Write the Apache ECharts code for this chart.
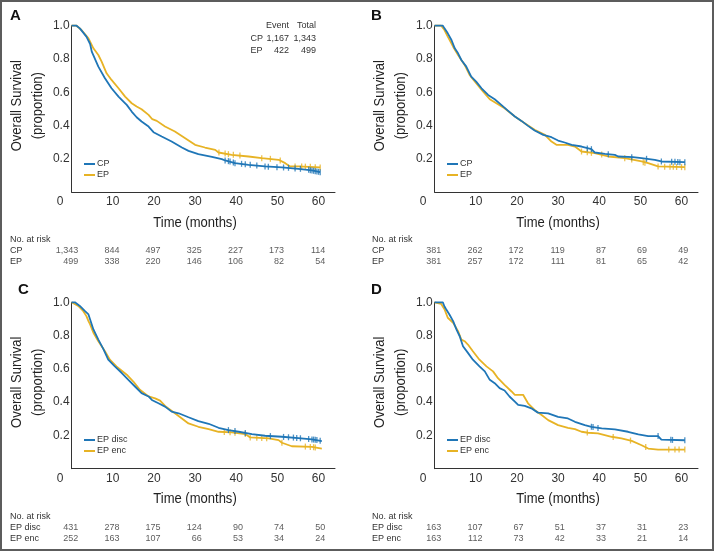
<!DOCTYPE html>
<html><head><meta charset="utf-8">
<script src="https://cdn.jsdelivr.net/npm/echarts@6/dist/echarts.min.js"></script>
<style>html,body{margin:0;padding:0;background:#fff}#c{width:714px;height:551px}</style>
</head><body><div id="c"></div><script>
// ---------- data ----------
const timeTicks = [0, 10, 20, 30, 40, 50, 60];

const A_CP = [[0,1],[1.2,1],[2,0.984],[3.6,0.934],[4.5,0.89],[4.9,0.844],[6.5,0.754],[8.1,0.684],[9.7,0.624],[11.4,0.574],[12.6,0.544],[13.4,0.524],[14.6,0.484],[15.8,0.45],[17,0.424],[18.7,0.394],[19.9,0.36],[21.9,0.334],[24.3,0.304],[26.8,0.268],[28.4,0.248],[30.8,0.228],[34.1,0.212],[36.5,0.198],[37.3,0.19],[39.7,0.174],[43,0.164],[47,0.154],[51.1,0.148],[55.1,0.14],[58.4,0.13],[60.4,0.12]];
const A_EP = [[0,1],[1.2,1],[2.4,0.974],[4.1,0.924],[5.3,0.864],[6.5,0.824],[7.3,0.784],[8.5,0.714],[9.7,0.674],[11.4,0.624],[13,0.574],[14.6,0.534],[15.8,0.514],[17,0.498],[18.7,0.464],[19.6,0.438],[20.7,0.428],[22.7,0.394],[25.1,0.364],[27.6,0.324],[30,0.284],[32.4,0.268],[34.9,0.254],[35.7,0.238],[38.9,0.224],[43,0.214],[46.2,0.204],[50.3,0.194],[51.9,0.174],[53.1,0.154],[55.1,0.154],[60.4,0.148]];
const A_CP_cens = [[37.3,0.19],[38.1,0.186],[38.5,0.184],[39.3,0.178],[39.7,0.174],[41.3,0.17],[42.2,0.168],[43.4,0.164],[45,0.16],[47,0.154],[47.8,0.153],[49.9,0.15],[51.5,0.148],[52.7,0.146],[54.3,0.142],[55.6,0.14],[57.6,0.134],[58,0.132],[58.4,0.13],[58.8,0.128],[59.2,0.126],[59.6,0.124],[60,0.122],[60.4,0.12]];
const A_EP_cens = [[35.8,0.238],[37.3,0.232],[38.1,0.228],[39.3,0.224],[40.9,0.22],[46.2,0.204],[48.3,0.2],[50.7,0.19],[54.3,0.154],[55.9,0.154],[56.8,0.153],[58,0.152],[59.2,0.15],[60.4,0.148]];

const B_CP = [[0,1],[2,1],[2.4,0.984],[3.2,0.954],[4.1,0.914],[4.9,0.864],[5.7,0.834],[6.5,0.794],[7.7,0.754],[8.9,0.694],[10.1,0.664],[11.4,0.624],[13,0.584],[14.6,0.558],[16.2,0.524],[17.8,0.49],[19.5,0.454],[21.1,0.428],[22.7,0.398],[24.3,0.37],[26.4,0.344],[28.4,0.33],[30,0.31],[31.6,0.298],[33.3,0.284],[35.7,0.274],[38.1,0.258],[38.9,0.238],[41.4,0.23],[43.8,0.224],[44.6,0.214],[48.2,0.21],[50.3,0.204],[53.5,0.194],[55.1,0.184],[60.8,0.18]];
const B_EP = [[0,1],[1.6,1],[2.4,0.974],[3.2,0.934],[4.5,0.874],[5.7,0.824],[7.3,0.764],[8.5,0.704],[10.1,0.654],[11.8,0.604],[13.4,0.558],[15,0.534],[17,0.504],[19.5,0.454],[21.9,0.414],[24.3,0.374],[26.8,0.344],[28.4,0.304],[29.6,0.284],[32.4,0.284],[34.1,0.274],[35.7,0.244],[38.9,0.234],[42.2,0.214],[46.2,0.204],[50.3,0.184],[51.9,0.174],[54.3,0.154],[60.8,0.15]];
const B_CP_cens = [[37.1,0.262],[38.1,0.258],[42.2,0.228],[47.9,0.21],[51.5,0.2],[55.1,0.184],[57.6,0.182],[58.4,0.182],[59.1,0.181],[59.6,0.18],[60.8,0.18]];
const B_EP_cens = [[35.7,0.244],[37.1,0.24],[38.1,0.236],[40.6,0.226],[46.2,0.204],[47.9,0.196],[50.7,0.18],[51.1,0.177],[54.3,0.154],[55.9,0.153],[57.2,0.152],[58,0.152],[58.8,0.151],[60,0.15],[60.8,0.15]];

const C_DISC = [[0,1],[0.8,1],[2,0.978],[3.2,0.948],[4.1,0.927],[4.5,0.897],[5.3,0.837],[6.5,0.776],[7.7,0.72],[8.9,0.655],[10.5,0.615],[12.2,0.575],[13.8,0.534],[15.4,0.494],[17,0.454],[18.7,0.434],[19.5,0.413],[21.1,0.393],[22.7,0.373],[24.3,0.343],[26,0.333],[28.4,0.309],[30.8,0.286],[33.3,0.27],[35.7,0.246],[38.1,0.232],[40.6,0.222],[43.8,0.208],[47,0.198],[51.1,0.192],[55.1,0.184],[58.4,0.176],[60.8,0.166]];
const C_ENC = [[0,1],[0.4,1],[1.6,0.978],[2.8,0.948],[3.6,0.917],[4.1,0.887],[4.5,0.867],[5.3,0.817],[6.5,0.766],[8.1,0.706],[9.3,0.655],[10.9,0.615],[13.4,0.565],[15,0.524],[16.6,0.474],[18.7,0.434],[20.3,0.423],[21.5,0.409],[22.7,0.377],[25.1,0.333],[26.8,0.302],[28.4,0.272],[30.8,0.252],[33.3,0.238],[35.7,0.222],[38.9,0.218],[42.2,0.208],[43.4,0.188],[47.9,0.182],[50.3,0.172],[51.1,0.156],[53.5,0.135],[58.4,0.131],[60.8,0.121]];
const C_DISC_cens = [[38.1,0.232],[39.7,0.226],[42.2,0.214],[48.3,0.196],[51.5,0.191],[52.7,0.189],[53.9,0.187],[54.7,0.185],[55.6,0.183],[57.6,0.178],[58.4,0.176],[58.8,0.175],[59.2,0.174],[59.6,0.172],[60.4,0.168]];
const C_ENC_cens = [[37.1,0.22],[38.5,0.219],[39.7,0.216],[42.2,0.208],[43.4,0.188],[45,0.186],[46.2,0.184],[47.4,0.183],[51.1,0.156],[56.8,0.133],[58,0.131],[58.8,0.129],[59.2,0.128]];

const D_DISC = [[0,1],[2,1],[2.4,0.975],[2.8,0.958],[3.6,0.927],[4.5,0.887],[5.3,0.837],[6.1,0.796],[6.9,0.736],[8.1,0.696],[9.3,0.655],[10.9,0.615],[12.2,0.585],[13.4,0.534],[14.6,0.514],[15.8,0.484],[17,0.47],[18.2,0.434],[19.5,0.403],[20.3,0.383],[21.9,0.377],[23.5,0.363],[25.1,0.337],[27.6,0.333],[30,0.312],[32.4,0.302],[34.1,0.282],[36.5,0.262],[38.1,0.252],[40.6,0.242],[43.8,0.236],[47,0.222],[49.5,0.206],[51.9,0.196],[54.3,0.196],[55.1,0.175],[60.8,0.171]];
const D_ENC = [[0,1],[0.4,1],[1.6,0.99],[2.4,0.958],[3.2,0.907],[4.5,0.877],[5.7,0.827],[6.5,0.776],[7.3,0.766],[8.1,0.746],[9.3,0.706],[10.9,0.655],[12.6,0.615],[14.2,0.585],[15.4,0.544],[17,0.504],[18.7,0.464],[19.5,0.444],[21.5,0.444],[22.7,0.393],[24.3,0.353],[26,0.323],[27.6,0.292],[30,0.262],[32.4,0.246],[34.1,0.238],[35.7,0.222],[37.3,0.216],[39.7,0.212],[43,0.192],[45.4,0.182],[47.9,0.167],[50.3,0.141],[51.9,0.121],[54.3,0.115],[60.8,0.115]];
const D_DISC_cens = [[38.1,0.252],[38.5,0.251],[39.7,0.245],[54.3,0.196],[57.4,0.174],[57.8,0.173],[60.8,0.171]];
const D_ENC_cens = [[37.1,0.217],[43.4,0.191],[47.6,0.169],[51.3,0.13],[56.9,0.115],[58.4,0.115],[59.4,0.115],[60.8,0.115]];

const riskA_CP = [1343, 844, 497, 325, 227, 173, 114];
const riskA_EP = [499, 338, 220, 146, 106, 82, 54];
const riskB_CP = [381, 262, 172, 119, 87, 69, 49];
const riskB_EP = [381, 257, 172, 111, 81, 65, 42];
const riskC_DISC = [431, 278, 175, 124, 90, 74, 50];
const riskC_ENC = [252, 163, 107, 66, 53, 34, 24];
const riskD_DISC = [163, 107, 67, 51, 37, 31, 23];
const riskD_ENC = [163, 112, 73, 42, 33, 21, 14];

const eventHeader = ['Event', 'Total'];
const eventRows = [['CP', 1167, 1343], ['EP', 422, 499]];

// ---------- styling / layout ----------
const BLUE = '#1f76b7', GOLD = '#e7b325', INK = '#333';
const SANS = '"Liberation Sans",Arial,sans-serif';
const PW = 263.4, PH = 166.4;
const SMALL = 9;

const panels = [
  {letter:'A', names:['CP','EP'], curves:[A_CP, A_EP], cens:[A_CP_cens, A_EP_cens], risk:[riskA_CP, riskA_EP],
   left:71.6, top:25.7, letterX:10, letterY:16, riskX:10, legendX:84, legendY:158.5},
  {letter:'B', names:['CP','EP'], curves:[B_CP, B_EP], cens:[B_CP_cens, B_EP_cens], risk:[riskB_CP, riskB_EP],
   left:434.6, top:25.7, letterX:371, letterY:16, riskX:372, legendX:447, legendY:158.5},
  {letter:'C', names:['EP disc','EP enc'], curves:[C_DISC, C_ENC], cens:[C_DISC_cens, C_ENC_cens], risk:[riskC_DISC, riskC_ENC],
   left:71.6, top:302.3, letterX:18, letterY:289.5, riskX:10, legendX:84, legendY:434.5},
  {letter:'D', names:['EP disc','EP enc'], curves:[D_DISC, D_ENC], cens:[D_DISC_cens, D_ENC_cens], risk:[riskD_DISC, riskD_ENC],
   left:434.6, top:302.3, letterX:371, letterY:289.5, riskX:372, legendX:447, legendY:434.5}
];

const fmt = v => v.toLocaleString('en-US');
const grid = [], xAxis = [], yAxis = [], series = [], legend = [], graphic = [];
const colors = [BLUE, GOLD];

graphic.push({type:'rect', shape:{x:1, y:1, width:712, height:549}, style:{fill:'none', stroke:'#5c5c5c', lineWidth:2}, z:100});

panels.forEach((p, i) => {
  const gi = 2 * i, ri = 2 * i + 1;
  grid.push({left:p.left, top:p.top, width:PW, height:PH});
  const riskTop = p.top + 219.5;
  grid.push({left:p.left, top:riskTop, width:PW, height:22});

  xAxis.push({
    gridIndex:gi, type:'value', min:0, max:64, interval:10,
    axisLine:{show:true, lineStyle:{color:INK, width:1}}, axisTick:{show:false}, splitLine:{show:false},
    axisLabel:{margin:4, fontSize:12, fontFamily:SANS, color:INK,
      formatter:v => (v % 10 === 0 && v <= 60) ? (v === 0 ? '{o|0}' : String(v)) : '',
      rich:{o:{padding:[0,23,0,0], fontSize:12, fontFamily:SANS, color:INK}}}
  });
  yAxis.push({
    gridIndex:gi, type:'value', min:0, max:1, interval:0.2,
    axisLine:{show:true, lineStyle:{color:INK, width:1}}, axisTick:{show:false}, splitLine:{show:false},
    axisLabel:{margin:2, fontSize:12, fontFamily:SANS, color:INK, formatter:v => v === 0 ? '' : v.toFixed(1)}
  });
  xAxis.push({gridIndex:ri, type:'value', min:0, max:64, show:false});
  yAxis.push({gridIndex:ri, type:'category', inverse:true, data:p.names,
    axisLine:{show:false}, axisTick:{show:false},
    axisLabel:{interval:0, align:'left', margin:p.left - p.riskX, fontSize:SMALL, fontFamily:SANS, color:INK}});

  [1, 0].forEach(k => {
    series.push({type:'line', name:p.names[k], xAxisIndex:gi, yAxisIndex:gi, data:p.curves[k],
      showSymbol:false, clip:false, color:colors[k], lineStyle:{width:1.8, color:colors[k]}, z:3 + (1 - k)});
    series.push({type:'scatter', name:p.names[k] + ' censored', xAxisIndex:gi, yAxisIndex:gi, data:p.cens[k],
      symbol:'rect', symbolSize:[1.3, 6], color:colors[k], itemStyle:{color:colors[k]}, z:3 + (1 - k), silent:true});
  });
  p.names.forEach((nm, k) => {
    series.push({type:'scatter', xAxisIndex:ri, yAxisIndex:ri, silent:true, symbolSize:0,
      data:timeTicks.map((t, j) => [t, nm, p.risk[k][j]]),
      label:{show:true, position:'inside', align:'right', verticalAlign:'middle', offset:[6.7, 0],
        formatter:q => fmt(q.value[2]), fontSize:SMALL, fontFamily:SANS, color:INK}});
  });

  legend.push({data:p.names, left:p.legendX, top:p.legendY, orient:'vertical', padding:0, itemGap:0,
    icon:'rect', itemWidth:11, itemHeight:2, selectedMode:false,
    textStyle:{fontSize:SMALL, fontFamily:SANS, color:INK, lineHeight:11, padding:[0,0,0,-3]}});

  // axis titles (condensed look via horizontal scaling of real text)
  graphic.push({type:'text', x:p.left + 123.4, y:p.top + 196.8, scaleX:0.84,
    style:{text:'Time (months)', fontSize:15.5, fontFamily:SANS, fill:'#222', align:'center', verticalAlign:'middle'}});
  graphic.push({type:'text', x:p.left - 44.2, y:p.top + 80, rotation:Math.PI / 2, scaleX:0.84,
    style:{text:'Overall Survival\n(proportion)', fontSize:15.5, lineHeight:21, fontFamily:SANS, fill:'#222', align:'center', verticalAlign:'middle'}});

  graphic.push({type:'text', x:p.letterX, y:p.letterY,
    style:{text:p.letter, fontSize:15, fontWeight:'bold', fontFamily:SANS, fill:'#111', align:'left', verticalAlign:'middle'}});
  graphic.push({type:'text', x:p.riskX, y:riskTop - 5.5,
    style:{text:'No. at risk', fontSize:SMALL, fontFamily:SANS, fill:INK, align:'left', verticalAlign:'middle'}});
});

// event/total table in panel A
const ev = (x, y, text, align) => graphic.push({type:'text', x, y,
  style:{text, fontSize:SMALL, fontFamily:SANS, fill:INK, align, verticalAlign:'middle'}});
ev(289, 26, eventHeader[0], 'right');
ev(316, 26, eventHeader[1], 'right');
eventRows.forEach((r, k) => {
  const y = 38.3 + k * 11.8;
  ev(250.5, y, r[0], 'left');
  ev(289, y, fmt(r[1]), 'right');
  ev(316, y, fmt(r[2]), 'right');
});

const chart = echarts.init(document.getElementById('c'), null, {renderer:'canvas'});
chart.setOption({animation:false, backgroundColor:'#fff', grid, xAxis, yAxis, series, legend, graphic});
</script></body></html>
